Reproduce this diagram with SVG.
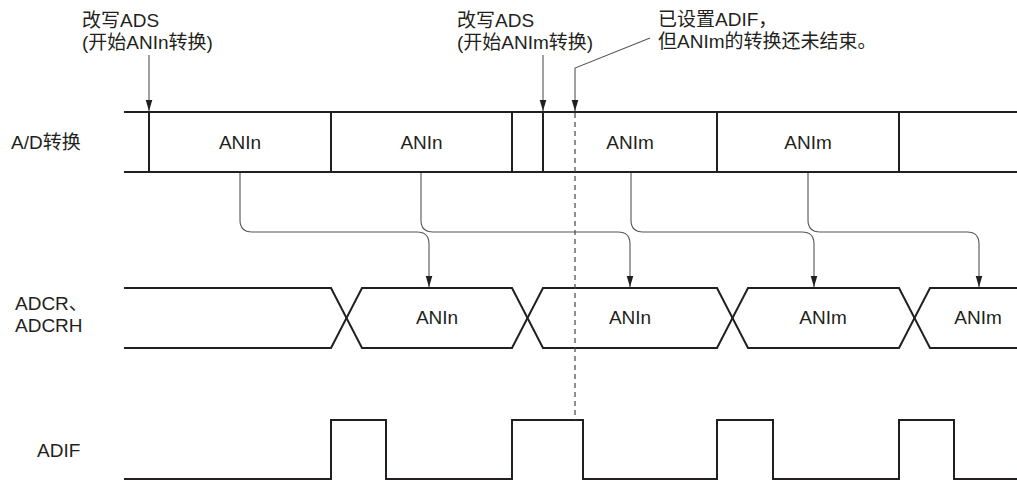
<svg xmlns="http://www.w3.org/2000/svg" width="1017" height="480" viewBox="0 0 1017 480">
<style>
text{font-family:"Liberation Sans","Noto Sans CJK SC",Arial,sans-serif;font-size:19px;fill:#231f20}
.c{text-anchor:middle}
.sig{fill:none;stroke:#231f20;stroke-width:2}
.con{fill:none;stroke:#555;stroke-width:1.1}
.dash{fill:none;stroke:#444;stroke-width:1.2;stroke-dasharray:5 4}
</style>
<defs>
<marker id="av" markerUnits="userSpaceOnUse" markerWidth="12" markerHeight="8" refX="11" refY="4" orient="auto" viewBox="0 0 12 8">
<path d="M0,0.7 L11,4 L0,7.3 Z" fill="#231f20"/>
</marker>
</defs>

<g id="labels">
<text x="11" y="148.5">A/D转换</text>
<text x="15" y="309.5">ADCR、</text>
<text x="15" y="332">ADCRH</text>
<text x="37" y="457">ADIF</text>
</g>

<g id="note-ads-n">
<text x="82" y="27">改写ADS</text>
<text x="82" y="48.5">(开始ANIn转换)</text>
</g>
<g id="note-ads-m">
<text x="457" y="27">改写ADS</text>
<text x="457" y="48.5">(开始ANIm转换)</text>
</g>
<g id="note-adif">
<text x="658" y="26">已设置ADIF，</text>
<text x="658" y="47.5">但ANIm的转换还未结束。</text>
</g>

<g id="ad-row">
<path class="sig" d="M124,112 H1017 M124,172 H1017 M149,112 V172 M331,112 V172 M512,112 V172 M543,112 V172 M717,112 V172 M899,112 V172"/>
<text class="c" x="240" y="149">ANIn</text>
<text class="c" x="421.5" y="149">ANIn</text>
<text class="c" x="630" y="149">ANIm</text>
<text class="c" x="808" y="149">ANIm</text>
</g>

<g id="adcr-row">
<path class="sig" d="M124,288 H331 L362,348 H512 L543,288 H717 L748,348 H899 L930,288 H1017"/>
<path class="sig" d="M124,348 H331 L362,288 H512 L543,348 H717 L748,288 H899 L930,348 H1017"/>
<text class="c" x="437" y="323.5">ANIn</text>
<text class="c" x="630" y="323.5">ANIn</text>
<text class="c" x="823" y="323.5">ANIm</text>
<text class="c" x="978" y="323.5">ANIm</text>
</g>

<g id="adif-row">
<path class="sig" d="M124,479 H331 V420 H386 V479 H512 V420 H583 V479 H717 V420 H773 V479 H899 V420 H954 V479 H1017"/>
</g>

<g id="connectors">
<path class="con" d="M149,55 V111" marker-end="url(#av)"/>
<path class="con" d="M543,55 V111" marker-end="url(#av)"/>
<path class="con" d="M650,38 L575,68 V111" marker-end="url(#av)"/>
<path class="dash" d="M575,113 V420"/>
<path class="con" d="M240,173 V220 Q240,232 252,232 H417 Q429,232 429,244 V287" marker-end="url(#av)"/>
<path class="con" d="M421,173 V220 Q421,232 433,232 H618 Q630,232 630,244 V287" marker-end="url(#av)"/>
<path class="con" d="M631,173 V220 Q631,232 643,232 H802 Q814,232 814,244 V287" marker-end="url(#av)"/>
<path class="con" d="M808,173 V220 Q808,232 820,232 H967 Q979,232 979,244 V287" marker-end="url(#av)"/>
</g>
</svg>
